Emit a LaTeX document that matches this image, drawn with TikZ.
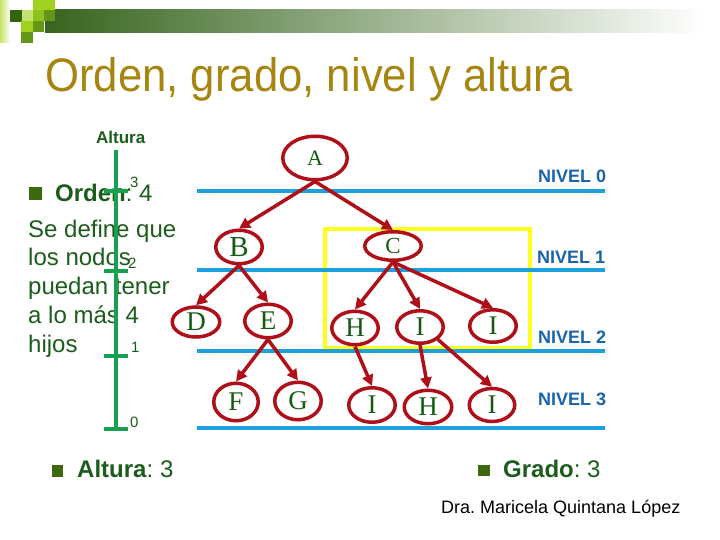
\documentclass[tikz,border=0pt]{standalone}
\usepackage{fontspec}
\setmainfont{Liberation Serif}
\setsansfont{Liberation Sans}
\usetikzlibrary{shapes.geometric,arrows.meta}
\definecolor{treered}{RGB}{175,15,25}
\definecolor{nodegreen}{RGB}{20,90,20}
\definecolor{darktext}{RGB}{28,92,28}
\definecolor{bulletgreen}{RGB}{60,105,15}
\definecolor{lineblue}{RGB}{30,160,220}
\definecolor{nivelblue}{RGB}{25,100,170}
\definecolor{axisgreen}{RGB}{24,160,80}
\definecolor{boxyellow}{RGB}{255,255,30}
\definecolor{titlegold}{RGB}{166,134,16}
\definecolor{barstart}{RGB}{55,100,30}
\definecolor{barmid}{RGB}{160,172,150}
\definecolor{limea}{RGB}{160,210,30}
\definecolor{limeb}{RGB}{140,195,30}
\definecolor{limelight}{RGB}{195,225,110}
\definecolor{greenc}{RGB}{100,150,25}
\definecolor{darksq}{RGB}{50,100,10}
\definecolor{strip}{RGB}{200,228,100}
\frenchspacing
\begin{document}
\begin{tikzpicture}[x=1pt,y=-1pt,
  tnode/.style={ellipse, draw=treered, line width=3.5pt, inner sep=0pt, text=nodegreen,
     font=\rmfamily\fontsize{27}{27}\selectfont},
  tedge/.style={draw=treered, line width=3.5pt, -{Triangle[length=11pt,width=11pt]}},
  nivel/.style={anchor=base west, inner sep=0pt, text=nivelblue,
     font=\sffamily\bfseries\fontsize{18}{18}\selectfont},
  levelline/.style={draw=lineblue, line width=3.5pt},
  axisline/.style={draw=axisgreen, line width=4pt},
  ticklabel/.style={anchor=base west, inner sep=0pt, text=darktext,
     font=\sffamily\fontsize{15}{15}\selectfont},
  bigtext/.style={anchor=base west, inner sep=0pt, text=darktext,
     font=\sffamily\fontsize{24}{29}\selectfont},
  bulletsq/.style={fill=bulletgreen, draw=none}
]
\useasboundingbox (0,0) rectangle (720,540);
\fill[white] (0,0) rectangle (720,540);

% header decoration
\shade[left color=strip, right color=white] (0,0) rectangle (10,43);
\shade[left color=barstart, middle color=barmid, right color=white] (45,10) rectangle (705,33);
\fill[darksq] (10,10) rectangle (22,22);
\fill[limelight] (22,10) rectangle (33,21);
\fill[limea] (33,0) rectangle (55,10);
\fill[limeb] (33,10) rectangle (44,21);
\fill[greenc] (44,10) rectangle (55,21);
\fill[limea] (21,21) rectangle (33,32);
\fill[greenc] (33,21) rectangle (44,32);
\fill[greenc] (21,32) rectangle (33,43);

% title
\node[anchor=base west, inner sep=0pt, text=titlegold, font=\sffamily\fontsize{47}{47}\selectfont]
  (title) at (45,92) {\scalebox{0.93}[1]{Orden, grado, nivel y altura}};

% left text
\fill[bulletsq] (29,187) rectangle (42,200);
\node[bigtext] (orden) at (55,202) {\textbf{Orden}: 4};
\node[anchor=north west, inner sep=0pt, text=darktext, align=left,
      font=\sffamily\fontsize{24}{28.75}\selectfont] (def) at (28,219.5)
  {Se define que\\los nodos\\puedan tener\\a lo más 4\\hijos};

% yellow box
\draw[boxyellow, line width=4pt] (325,229) rectangle (530,348);

% level lines
\draw[levelline] (197,191) -- (605,191);
\draw[levelline] (197,270) -- (605,270);
\draw[levelline] (197,351) -- (605,351);
\draw[levelline] (197,428) -- (605,428);

% level labels
\node[nivel] (n0) at (538,183) {NIVEL 0};
\node[nivel] (n1) at (537,263) {NIVEL 1};
\node[nivel] (n2) at (538,343) {NIVEL 2};
\node[nivel] (n3) at (538,405) {NIVEL 3};

% height axis
\node[anchor=base west, inner sep=0pt, text=darktext,
      font=\sffamily\bfseries\fontsize{17}{17}\selectfont] (altlabel) at (96,144) {Altura};
\coordinate (axtop) at (116,150);
\coordinate (axbot) at (116,429);
\draw[axisline] (axtop) -- (axbot);
\foreach \yy/\nm in {191/t3,271/t2,356/t1,429/t0}{
  \coordinate (\nm l) at (104,\yy);
  \coordinate (\nm r) at (128,\yy);
  \draw[axisline] (\nm l) -- (\nm r);
}
\node[ticklabel] (l3) at (130,188) {3};
\node[ticklabel] (l2) at (128,268) {2};
\node[ticklabel] (l1) at (131,352) {1};
\node[ticklabel] (l0) at (130,427) {0};

% tree nodes
\node[tnode, minimum width=64.5pt, minimum height=43.5pt, font=\rmfamily\fontsize{22}{22}\selectfont] (A) at (315,158) {A};
\node[tnode, minimum width=46.5pt, minimum height=33.5pt, font=\rmfamily\fontsize{29}{29}\selectfont] (B) at (239,247) {B};
\node[tnode, minimum width=56.5pt, minimum height=28.5pt, font=\rmfamily\fontsize{23}{23}\selectfont] (C) at (393,246) {C};
\node[tnode, minimum width=47.5pt, minimum height=30pt] (D) at (196,322) {D};
\node[tnode, minimum width=46.5pt, minimum height=33.5pt] (E) at (268,321) {E};
\node[tnode, minimum width=46.5pt, minimum height=33.5pt] (H2) at (355,328) {H};
\node[tnode, minimum width=46.5pt, minimum height=32.5pt] (I2) at (420,327) {I};
\node[tnode, minimum width=46.5pt, minimum height=32.5pt] (I2b) at (493,326) {I};
\node[tnode, minimum width=44.5pt, minimum height=37.5pt] (F) at (236,402) {F};
\node[tnode, minimum width=46.5pt, minimum height=37.5pt] (G) at (298,401) {G};
\node[tnode, minimum width=46.5pt, minimum height=34.5pt] (I3) at (372,405) {I};
\node[tnode, minimum width=47.5pt, minimum height=33.5pt] (H3) at (428,407) {H};
\node[tnode, minimum width=45.5pt, minimum height=33pt] (I3b) at (492,405) {I};

% tree edges
\draw[tedge] (A.south) -- (B.north);
\draw[tedge] (A.south) -- (C.north);
\draw[tedge] (B.south) -- (D.north);
\draw[tedge] (B.south) -- (E.north);
\draw[tedge] (C.south) -- (H2.north);
\draw[tedge] (C.south) -- (I2.north);
\draw[tedge] (C.south) -- (I2b.north);
\draw[tedge] (E.south) -- (F.north);
\draw[tedge] (E.south) -- (G.north);
\draw[tedge] (H2.south) -- (I3.north);
\draw[tedge] (I2.south) -- (H3.north);
\draw[tedge] (I2.-35) -- (I3b.north);

% bottom text
\fill[bulletsq] (52,465) rectangle (63,477);
\node[bigtext] (altura) at (77,477) {\textbf{Altura}: 3};
\fill[bulletsq] (478,465) rectangle (490,476);
\node[bigtext] (grado) at (503,477) {\textbf{Grado}: 3};
\node[anchor=base west, inner sep=0pt, text=black, font=\sffamily\fontsize{18}{18}\selectfont]
  (author) at (441,513) {Dra. Maricela Quintana López};
\end{tikzpicture}
\end{document}
